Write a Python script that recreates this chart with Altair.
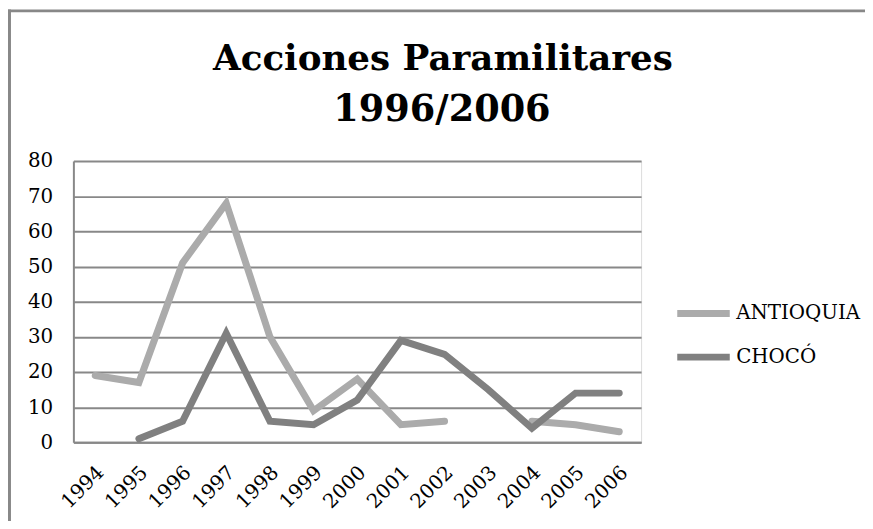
import altair as alt
import pandas as pd

years = ["1994", "1995", "1996", "1997", "1998", "1999", "2000",
         "2001", "2002", "2003", "2004", "2005", "2006"]
antioquia = [19, 17, 51, 68, 30, 9, 18, 5, 6, None, 6, 5, 3]
choco = [None, 1, 6, 31, 6, 5, 12, 29, 25, 15, 4, 14, 14]
series_names = ["ANTIOQUIA", "CHOCÓ"]
series_colors = ["#ABABAB", "#808080"]
title_lines = ["Acciones Paramilitares", "1996/2006"]

rows = []
for name, vals in zip(series_names, [antioquia, choco]):
    for y, v in zip(years, vals):
        rows.append({"year": y, "value": v, "serie": name})
df = pd.DataFrame(rows)

W, H = 573, 284
FONT = "DejaVu Serif"

lines = alt.Chart(df).mark_line(strokeWidth=7, strokeCap="round", clip=False).encode(
    x=alt.X("year:O", sort=years, scale=alt.Scale(type="point", padding=0.5),
            axis=alt.Axis(title=None, labelAngle=-45, labelAlign="right",
                          labelBaseline="middle", labelPadding=27, labelOffset=5,
                          ticks=False, domainColor="#888888", domainWidth=2, grid=False,
                          labelFont=FONT, labelFontSize=20, labelColor="#000000")),
    y=alt.Y("value:Q", scale=alt.Scale(domain=[0, 80], nice=False),
            axis=alt.Axis(title=None, values=list(range(0, 81, 10)), ticks=False,
                          labelPadding=21, domainColor="#888888", domainWidth=2,
                          gridColor="#888888", gridWidth=2, gridOpacity=1,
                          labelFont=FONT, labelFontSize=20, labelColor="#000000")),
    color=alt.Color("serie:N", sort=series_names,
                    scale=alt.Scale(domain=series_names, range=series_colors),
                    legend=alt.Legend(title=None, orient="none", legendX=606, legendY=124,
                                      symbolType="stroke", symbolSize=2809,
                                      symbolStrokeWidth=7, labelFont=FONT,
                                      labelFontSize=20, labelColor="#000000",
                                      rowPadding=-10, labelOffset=3)),
)

one = pd.DataFrame({"a": [0]})
border_top = alt.Chart(one).mark_rule(color="#888888", strokeWidth=3, clip=False).encode(
    x=alt.value(-66), x2=alt.value(W + 400), y=alt.value(-151.5),
)
border_left = alt.Chart(one).mark_rule(color="#888888", strokeWidth=3, clip=False).encode(
    x=alt.value(-64.5), y=alt.value(-153), y2=alt.value(H + 300),
)

t1 = alt.Chart(pd.DataFrame({"t": [title_lines[0]]})).mark_text(
    font=FONT, fontSize=36, fontWeight="bold", color="#000000",
    align="center", baseline="alphabetic", clip=False
).encode(text="t:N", x=alt.value(373), y=alt.value(-92))

t2 = alt.Chart(pd.DataFrame({"t": [title_lines[1]]})).mark_text(
    font=FONT, fontSize=37, fontWeight="bold", color="#000000",
    align="center", baseline="alphabetic", clip=False
).encode(text="t:N", x=alt.value(372), y=alt.value(-40))

chart = alt.layer(border_top, border_left, lines, t1, t2).properties(
    width=W, height=H,
    padding={"left": 66, "top": 152, "right": 226, "bottom": 77},
    autosize=alt.AutoSizeParams(type="none"),
).configure_view(stroke=None).configure(background="white")

chart.save("out.html", embed_options={"renderer": "svg", "actions": False})
